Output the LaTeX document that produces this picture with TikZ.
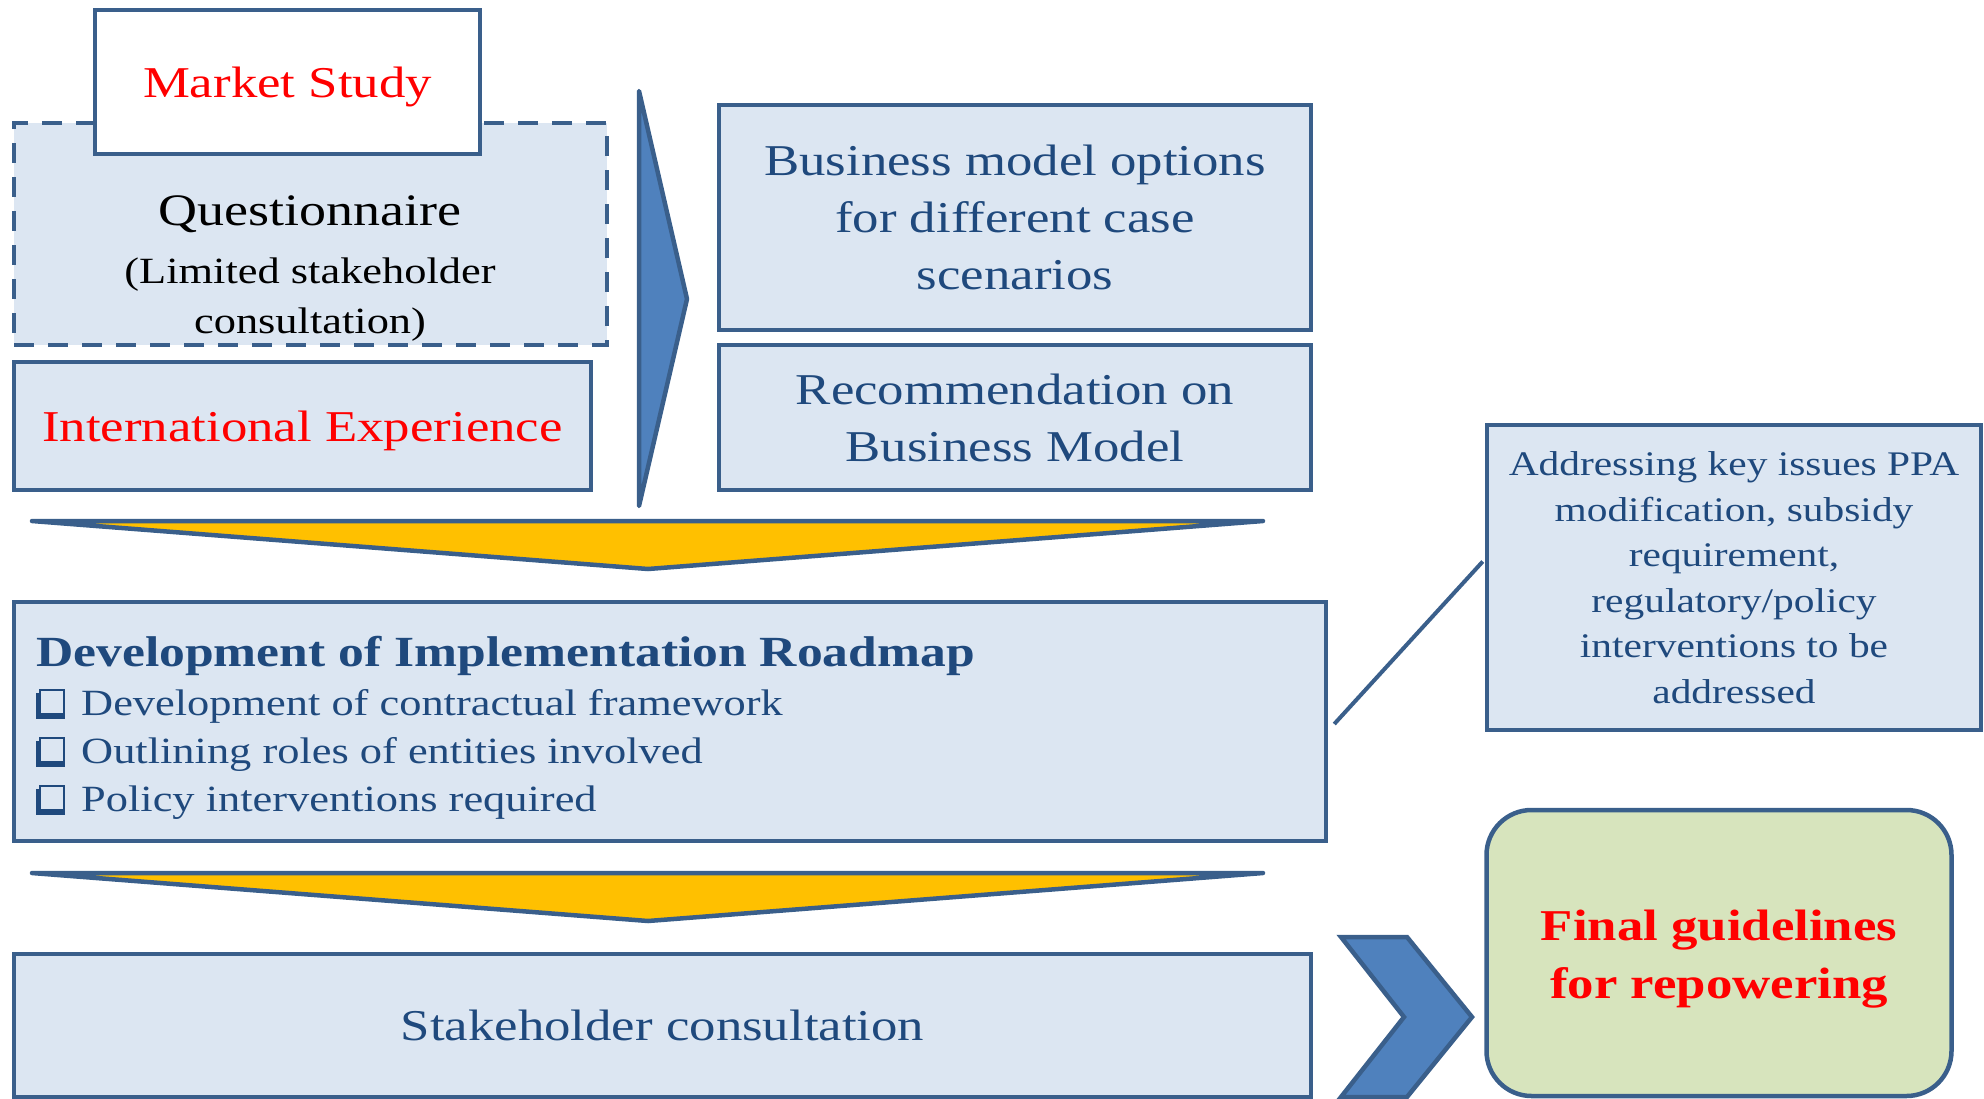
\documentclass[tikz,border=0pt]{standalone}
\usepackage{fontspec}
\setmainfont{Liberation Serif}
\usepackage{graphicx}
\usetikzlibrary{calc}
\definecolor{bord}{HTML}{3A5F8B}
\definecolor{lfill}{HTML}{DCE6F2}
\definecolor{chev}{HTML}{4F81BD}
\definecolor{txt}{HTML}{1F497D}
\definecolor{yel}{HTML}{FFC000}
\definecolor{grn}{HTML}{D7E4BD}
\definecolor{redt}{HTML}{FF0000}
\newcommand\hs[1]{\scalebox{1.2}[1]{#1}}
\newcommand\fs[2]{\fontsize{#1}{#2}\selectfont}
\begin{document}
\begin{tikzpicture}[x=1pt,y=-1pt,
  bx/.style={draw=bord, line width=4.5pt, fill=lfill, rectangle, inner sep=0pt, align=center, text=txt},
  tx/.style={inner sep=0pt, align=center},
  shp/.style={draw=bord, line width=4.5pt, line join=round},
  chk/.style={draw=txt, line width=2pt, minimum width=24pt, minimum height=24pt, inner sep=0pt}]
\useasboundingbox (0,0) rectangle (1984,1098);
\clip (0,0) rectangle (1984,1098);
% top-left group
\node[bx, dash pattern=on 20pt off 14pt, minimum width=593pt, minimum height=222pt] (quest) at (310.5,234) {};
\node[bx, fill=white, minimum width=385pt, minimum height=144pt] (ms) at (287.5,82) {};
\node[tx, text=redt, font={\fs{44}{57}}, yshift=-5pt] (mst) at (ms.center) {\hs{Market Study}};
\node[tx, anchor=base, font={\fs{45}{57}}] (q1) at (310,225) {\hs{Questionnaire}};
\node[tx, anchor=base, font={\fs{37}{50}}] (q2) at (310,283) {\hs{(Limited stakeholder}};
\node[tx, anchor=base, font={\fs{37}{50}}] (q3) at (310,333) {\hs{consultation)}};
\node[bx, minimum width=577pt, minimum height=128pt] (intl) at (302.5,426) {};
\node[tx, text=redt, font={\fs{44}{57}}, yshift=-5pt] (intlt) at (intl.center) {\hs{International Experience}};
% thin right arrow
\filldraw[shp, fill=chev] (639,91) -- (687,299) -- (639,506) -- cycle;
% right boxes
\node[bx, minimum width=592pt, minimum height=225pt, font={\fs{44}{57}}] (biz) at (1015,217.5) {\hs{Business model options}\\\hs{for different case}\\\hs{scenarios}};
\node[bx, minimum width=592pt, minimum height=145pt, font={\fs{44}{57}}] (rec) at (1015,417.5) {\hs{Recommendation on}\\\hs{Business Model}};
% yellow arrow 1
\filldraw[shp, fill=yel] (32,521) -- (1263,521) -- (648,569) -- cycle;
% roadmap
\node[bx, minimum width=1312pt, minimum height=239pt] (dev) at (670,721.5) {};
\node[tx, anchor=base west, text=txt, font={\fs{43}{50}\bfseries}] (devt) at (36,666) {\hs{Development of Implementation Roadmap}};
\node[chk] (k1) at (52,702) {};
\node[chk] (k2) at (52,750) {};
\node[chk] (k3) at (52,798) {};
\foreach \k in {k1,k2,k3}{
  \draw[txt, line width=4pt] ($(\k.north west)+(-1,4)$) -- ($(\k.south west)+(-1,2)$) -- ($(\k.south east)+(0,2)$);
}
\node[tx, anchor=base west, text=txt, font={\fs{37}{48}}] (d1) at (81,715) {\hs{Development of contractual framework}};
\node[tx, anchor=base west, text=txt, font={\fs{37}{48}}] (d2) at (81,763) {\hs{Outlining roles of entities involved}};
\node[tx, anchor=base west, text=txt, font={\fs{37}{48}}] (d3) at (81,811) {\hs{Policy interventions required}};
% yellow arrow 2
\filldraw[shp, fill=yel] (32,873) -- (1263,873) -- (648,921) -- cycle;
% stakeholder
\node[bx, minimum width=1297pt, minimum height=143pt, font={\fs{44}{57}}] (stake) at (662.5,1025.5) {\hs{Stakeholder consultation}};
% addressing box
\node[bx, minimum width=494pt, minimum height=305pt, font={\fs{34.5}{45.5}}] (addr) at (1734,577.5) {\hs{Addressing key issues PPA}\\\hs{modification, subsidy}\\\hs{requirement,}\\\hs{regulatory/policy}\\\hs{interventions to be}\\\hs{addressed}};
% final
\node[bx, fill=grn, rounded corners=45pt, minimum width=465pt, minimum height=286pt] (final) at (1719,953) {};
\node[tx, text=redt, font={\fs{44}{58}\bfseries}, yshift=-6pt] (finalt) at (final.center) {\hs{Final guidelines}\\\hs{for repowering}};
% chevron
\filldraw[shp, fill=chev, line join=miter] (1341,937) -- (1407,937) -- (1472,1017) -- (1407,1097) -- (1341,1097) -- (1404,1017) -- cycle;
% connector
\coordinate (c1) at ($(dev.east)+(6,2.5)$);
\coordinate (c2) at ($(addr.west)+(-2,-16)$);
\draw[bord, line width=4pt] (c1) -- (c2);
\end{tikzpicture}
\end{document}
